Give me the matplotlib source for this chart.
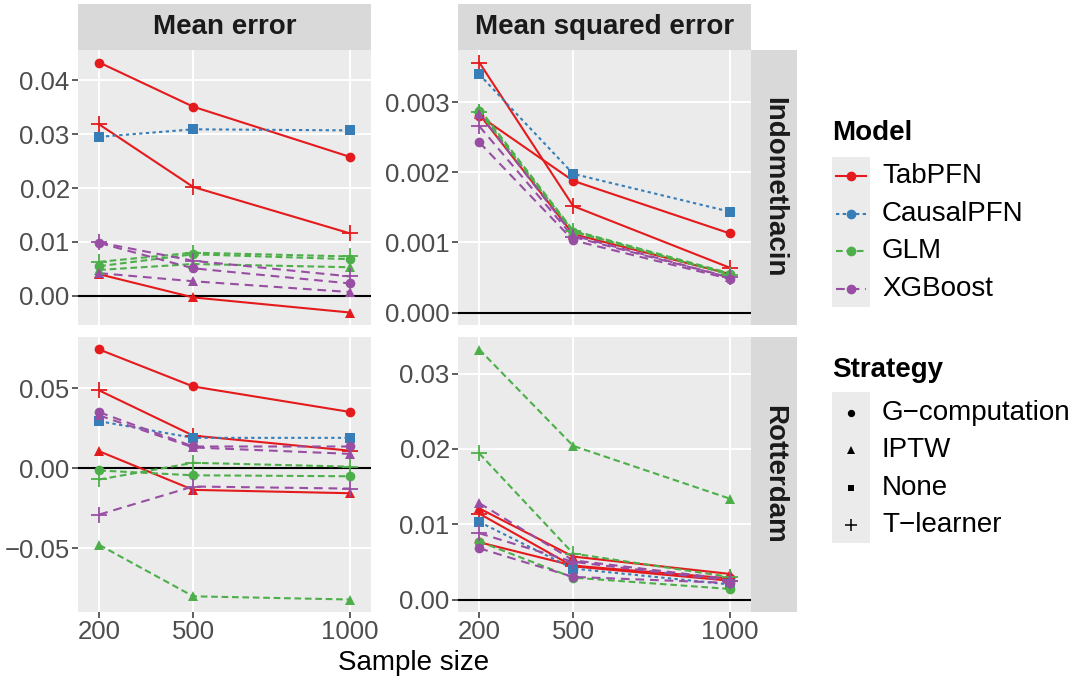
import matplotlib
matplotlib.use('Agg')
import numpy as np
import matplotlib.pyplot as plt
from matplotlib.patches import Rectangle
from matplotlib.lines import Line2D

plt.rcParams['font.family'] = ['Liberation Sans', 'DejaVu Sans']

sizes = [200, 500, 1000]
models = ['TabPFN', 'CausalPFN', 'GLM', 'XGBoost']
strategies = ['G\u2212computation', 'IPTW', 'None', 'T\u2212learner']
datasets = ['Indomethacin', 'Rotterdam']
metrics = ['Mean error', 'Mean squared error']

# (model, strategy) -> values at 200, 500, 1000
indo_me = {
    ('TabPFN', 'G'): [0.0433, 0.0351, 0.0258],
    ('TabPFN', 'IPTW'): [0.0040, -0.0003, -0.0031],
    ('TabPFN', 'T'): [0.0318, 0.0202, 0.0116],
    ('CausalPFN', 'None'): [0.0295, 0.0309, 0.0307],
    ('GLM', 'G'): [0.0055, 0.0077, 0.0068],
    ('GLM', 'IPTW'): [0.0048, 0.0059, 0.0053],
    ('GLM', 'T'): [0.0063, 0.0080, 0.0073],
    ('XGBoost', 'G'): [0.0098, 0.0051, 0.0023],
    ('XGBoost', 'IPTW'): [0.0042, 0.0027, 0.0007],
    ('XGBoost', 'T'): [0.0099, 0.0065, 0.0036],
}
indo_mse = {
    ('TabPFN', 'G'): [0.00281, 0.00188, 0.00113],
    ('TabPFN', 'IPTW'): [0.00283, 0.00112, 0.00055],
    ('TabPFN', 'T'): [0.00357, 0.00152, 0.00064],
    ('CausalPFN', 'None'): [0.00340, 0.00198, 0.00144],
    ('GLM', 'G'): [0.00288, 0.00115, 0.00055],
    ('GLM', 'IPTW'): [0.00291, 0.00117, 0.00056],
    ('GLM', 'T'): [0.00286, 0.00116, 0.00054],
    ('XGBoost', 'G'): [0.00243, 0.00103, 0.00048],
    ('XGBoost', 'IPTW'): [0.00284, 0.00110, 0.00050],
    ('XGBoost', 'T'): [0.00266, 0.00108, 0.00050],
}
rott_me = {
    ('TabPFN', 'G'): [0.0742, 0.0511, 0.0352],
    ('TabPFN', 'IPTW'): [0.0106, -0.0135, -0.0156],
    ('TabPFN', 'T'): [0.0486, 0.0204, 0.0110],
    ('CausalPFN', 'None'): [0.0294, 0.0190, 0.0190],
    ('GLM', 'G'): [-0.0014, -0.0044, -0.0050],
    ('GLM', 'IPTW'): [-0.0479, -0.0800, -0.0820],
    ('GLM', 'T'): [-0.0070, 0.0034, 0.0010],
    ('XGBoost', 'G'): [0.0350, 0.0136, 0.0136],
    ('XGBoost', 'IPTW'): [0.0330, 0.0130, 0.0090],
    ('XGBoost', 'T'): [-0.0289, -0.0114, -0.0127],
}
rott_mse = {
    ('TabPFN', 'G'): [0.0076, 0.0045, 0.0028],
    ('TabPFN', 'IPTW'): [0.0121, 0.0057, 0.0034],
    ('TabPFN', 'T'): [0.0114, 0.0044, 0.0025],
    ('CausalPFN', 'None'): [0.0103, 0.0041, 0.0020],
    ('GLM', 'G'): [0.0077, 0.0029, 0.0014],
    ('GLM', 'IPTW'): [0.0332, 0.0204, 0.0134],
    ('GLM', 'T'): [0.0194, 0.0061, 0.0030],
    ('XGBoost', 'G'): [0.0068, 0.0030, 0.0022],
    ('XGBoost', 'IPTW'): [0.0128, 0.0052, 0.0027],
    ('XGBoost', 'T'): [0.0088, 0.0050, 0.0025],
}

colors = {'TabPFN': '#E41A1C', 'CausalPFN': '#377EB8', 'GLM': '#4DAF4A', 'XGBoost': '#984EA3'}
dashes = {'TabPFN': '-', 'CausalPFN': (0, (1.6, 1.6)), 'GLM': (0, (3.2, 1.8)), 'XGBoost': (0, (4.2, 2.8))}
marks = {'G': ('o', 7), 'IPTW': ('^', 7.5), 'None': ('s', 6.5), 'T': ('+', 11)}

W, H = 1073, 677
fig = plt.figure(figsize=(W / 100, H / 100), dpi=100)

def px(x0, y0, x1, y1):
    return [x0 / W, 1 - y1 / H, (x1 - x0) / W, (y1 - y0) / H]

cols = [(78, 371), (458, 751)]
rows = [(50, 325), (337, 612)]
panels = [[indo_me, indo_mse], [rott_me, rott_mse]]
yticks = [[[0, 0.01, 0.02, 0.03, 0.04], [0, 0.001, 0.002, 0.003]],
          [[-0.05, 0, 0.05], [0, 0.01, 0.02, 0.03]]]
yfmt = [['{:.2f}', '{:.3f}'], ['{:.2f}', '{:.2f}']]

for i, (r0, r1) in enumerate(rows):
    for j, (c0, c1) in enumerate(cols):
        ax = fig.add_axes(px(c0, r0, c1, r1))
        data = panels[i][j]
        ax.set_facecolor('#EBEBEB')
        for s in ax.spines.values():
            s.set_visible(False)
        ax.grid(True, color='white', lw=1.4)
        ax.set_axisbelow(True)
        ax.axhline(0, color='black', lw=1.5, zorder=2)
        for (m, st), v in data.items():
            ax.plot(sizes, v, color=colors[m], ls=dashes[m], lw=1.5, zorder=3)
        for (m, st), v in data.items():
            mk, ms = marks[st]
            ax.plot(sizes, v, ls='none', marker=mk, ms=ms, color=colors[m],
                    mew=1.3 if mk == '+' else 0, zorder=4)
        vals = np.array(list(data.values()))
        lo, hi = min(vals.min(), 0), max(vals.max(), 0)
        pad = 0.05 * (hi - lo)
        ax.set_ylim(lo - pad, hi + pad)
        ax.set_xlim(132, 1068)
        ax.set_xticks(sizes)
        ax.set_xticklabels([str(s) for s in sizes] if i == 1 else [])
        ax.set_yticks(yticks[i][j])
        ax.set_yticklabels([yfmt[i][j].format(t).replace('-', '\u2212') for t in yticks[i][j]])
        ax.tick_params(colors='#333333', labelcolor='#4D4D4D', labelsize=18.5, length=4, width=1.1, pad=2)
        if i == 0:
            ax.tick_params(axis='x', length=0)

# strips
for j, (c0, c1) in enumerate(cols):
    sa = fig.add_axes(px(c0, 4, c1, 50))
    sa.set_facecolor('#D9D9D9')
    sa.set_xticks([]); sa.set_yticks([])
    for s in sa.spines.values():
        s.set_visible(False)
    sa.text(0.5, 0.5, metrics[j], ha='center', va='center', fontsize=20,
            fontweight='bold', color='#1A1A1A', transform=sa.transAxes)
for i, (r0, r1) in enumerate(rows):
    sa = fig.add_axes(px(751, r0, 797, r1))
    sa.set_facecolor('#D9D9D9')
    sa.set_xticks([]); sa.set_yticks([])
    for s in sa.spines.values():
        s.set_visible(False)
    sa.text(0.5, 0.5, datasets[i], ha='center', va='center', fontsize=20, rotation=-90,
            fontweight='bold', color='#1A1A1A', transform=sa.transAxes)

fig.text(414 / W, 1 - 663 / H, 'Sample size', ha='center', va='center', fontsize=20)

# legend
lax = fig.add_axes([0, 0, 1, 1])
lax.set_xlim(0, W); lax.set_ylim(H, 0)
lax.axis('off')
lax.text(832, 133, 'Model', fontsize=20, fontweight='bold', va='center', ha='left')
lax.add_patch(Rectangle((832, 157), 38, 150, color='#EBEBEB', lw=0))
for k, m in enumerate(models):
    y = 176 + k * 37.7
    lax.add_line(Line2D([836, 866], [y, y], color=colors[m], ls=dashes[m], lw=1.5))
    lax.plot(851, y, 'o', color=colors[m], ms=7, mew=0)
    lax.text(882, y, m, fontsize=20, va='center', ha='left')
lax.text(832, 370, 'Strategy', fontsize=20, fontweight='bold', va='center', ha='left')
lax.add_patch(Rectangle((832, 392), 38, 151, color='#EBEBEB', lw=0))
for k, (st, lab) in enumerate(zip(['G', 'IPTW', 'None', 'T'], strategies)):
    y = 413 + k * 37.3
    mk, ms = marks[st]
    lax.plot(851, y, marker=mk, ms=ms * 0.75, color='black', mew=1.1 if mk == '+' else 0)
    lax.text(882, y, lab, fontsize=20, va='center', ha='left')

fig.savefig('out.png', dpi=100)
